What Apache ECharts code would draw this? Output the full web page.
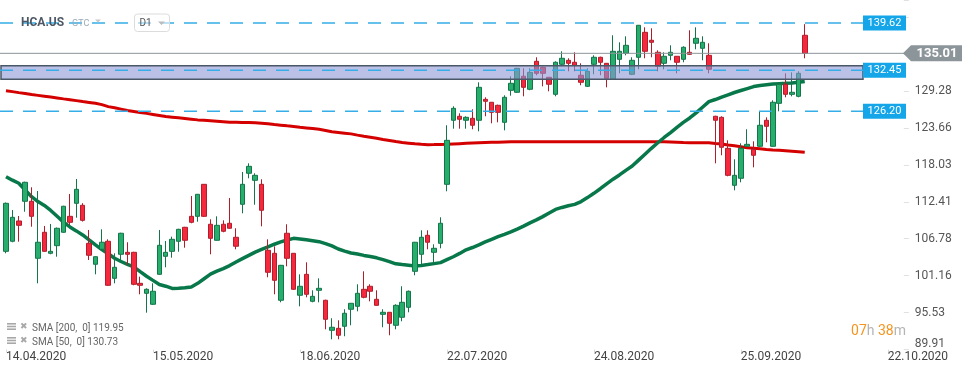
<!DOCTYPE html>
<html><head><meta charset="utf-8">
<script src="https://cdn.jsdelivr.net/npm/echarts@6/dist/echarts.min.js"></script>
<style>html,body{margin:0;padding:0;background:#fff}#c{width:974px;height:375px}</style>
</head><body><div id="c"></div>
<script>
const dates = ['14.04.2020','15.04.2020','16.04.2020','17.04.2020','20.04.2020','21.04.2020','22.04.2020','23.04.2020','24.04.2020','27.04.2020','28.04.2020','29.04.2020','30.04.2020','01.05.2020','04.05.2020','05.05.2020','06.05.2020','07.05.2020','08.05.2020','11.05.2020','12.05.2020','13.05.2020','14.05.2020','15.05.2020','18.05.2020','19.05.2020','20.05.2020','21.05.2020','22.05.2020','26.05.2020','27.05.2020','28.05.2020','29.05.2020','01.06.2020','02.06.2020','03.06.2020','04.06.2020','05.06.2020','08.06.2020','09.06.2020','10.06.2020','11.06.2020','12.06.2020','15.06.2020','16.06.2020','17.06.2020','18.06.2020','19.06.2020','22.06.2020','23.06.2020','24.06.2020','25.06.2020','26.06.2020','29.06.2020','30.06.2020','01.07.2020','02.07.2020','06.07.2020','07.07.2020','08.07.2020','09.07.2020','10.07.2020','13.07.2020','14.07.2020','15.07.2020','16.07.2020','17.07.2020','20.07.2020','21.07.2020','22.07.2020','23.07.2020','24.07.2020','27.07.2020','28.07.2020','29.07.2020','30.07.2020','31.07.2020','03.08.2020','04.08.2020','05.08.2020','06.08.2020','07.08.2020','10.08.2020','11.08.2020','12.08.2020','13.08.2020','14.08.2020','17.08.2020','18.08.2020','19.08.2020','20.08.2020','21.08.2020','24.08.2020','25.08.2020','26.08.2020','27.08.2020','28.08.2020','31.08.2020','01.09.2020','02.09.2020','03.09.2020','04.09.2020','08.09.2020','09.09.2020','10.09.2020','11.09.2020','14.09.2020','15.09.2020','16.09.2020','17.09.2020','18.09.2020','21.09.2020','22.09.2020','23.09.2020','24.09.2020','25.09.2020','28.09.2020','29.09.2020','30.09.2020','01.10.2020','02.10.2020','05.10.2020','06.10.2020','07.10.2020','08.10.2020','09.10.2020',
'10.10.2020','11.10.2020','12.10.2020','13.10.2020','14.10.2020','15.10.2020','16.10.2020','17.10.2020','18.10.2020','19.10.2020','20.10.2020','21.10.2020','22.10.2020','23.10.2020','24.10.2020'];

const opens = [104.87,106.40,109.49,112.49,112.49,103.81,107.77,104.57,105.73,107.77,110.20,112.18,111.88,106.09,102.90,105.18,106.40,100.76,104.42,104.72,104.72,100.00,98.48,96.81,101.37,104.11,104.87,106.40,108.53,110.20,110.20,115.07,108.99,106.55,108.99,109.14,107.01,112.03,116.75,115.68,115.07,105.03,104.57,97.42,107.62,104.57,98.18,101.37,97.26,98.94,97.42,92.85,93.15,93.46,96.05,96.50,99.09,99.55,97.57,95.28,95.59,93.61,94.83,96.35,101.83,104.42,107.31,104.72,106.09,115.07,124.82,125.43,124.82,125.12,124.82,128.01,127.56,127.10,124.51,129.38,129.08,131.52,129.54,133.80,132.88,131.36,128.77,133.34,133.95,133.65,131.67,129.99,133.34,134.41,133.49,131.06,134.10,135.02,131.82,134.41,138.21,137.00,135.17,133.49,134.71,134.56,134.10,135.17,136.54,135.78,134.71,125.43,125.27,120.55,114.92,115.99,120.86,120.40,120.86,124.82,120.86,127.40,130.30,128.77,128.47,137.76];
const closes = [112.18,110.05,108.83,115.38,110.20,106.25,104.87,104.87,108.38,111.73,109.29,114.31,109.59,104.27,104.05,106.25,99.70,102.44,107.62,104.42,99.85,99.70,99.09,98.79,105.79,104.72,106.70,108.22,106.55,109.29,113.55,110.20,106.85,108.83,107.92,108.38,105.64,115.07,117.81,116.44,111.12,101.68,100.46,102.74,103.81,99.09,99.55,98.33,98.02,99.24,94.52,93.31,92.09,95.44,96.96,98.48,97.87,98.79,96.65,95.59,93.91,96.65,97.11,98.79,106.25,107.01,106.25,105.33,109.14,121.77,126.64,124.97,125.27,124.06,129.84,127.71,126.03,126.03,128.32,130.45,132.73,129.84,132.12,131.97,131.97,130.30,133.65,134.26,133.49,133.19,130.60,132.28,134.41,133.65,131.21,135.32,135.32,136.23,133.95,139.28,135.32,136.69,133.04,134.56,135.17,133.65,135.93,134.86,137.30,136.69,132.58,124.82,120.71,116.44,116.44,120.55,121.16,119.49,124.06,123.90,127.56,130.30,128.77,129.08,131.97,135.01];
const lows = [104.57,106.25,106.34,110.90,108.62,100.00,104.80,104.42,104.05,107.70,108.88,109.99,109.40,103.55,101.37,105.10,99.60,100.00,103.55,102.79,99.70,98.33,95.53,96.70,101.30,102.44,103.90,104.81,105.42,109.14,109.38,110.10,104.42,106.50,107.77,108.30,105.18,110.66,115.99,111.97,108.68,100.92,98.33,97.11,102.59,99.00,96.50,97.87,97.11,97.11,93.00,91.48,91.48,91.94,93.61,95.74,97.72,97.26,96.60,93.31,92.09,93.00,94.22,95.59,101.22,102.90,105.18,103.05,105.33,114.01,123.54,123.54,123.54,123.45,123.14,125.43,124.36,124.51,123.29,128.56,129.00,128.47,129.40,131.67,129.99,129.23,128.47,133.04,132.28,132.28,130.15,129.90,131.82,131.67,129.84,131.00,131.97,134.71,131.70,132.58,134.26,134.41,132.28,132.58,133.95,131.97,133.65,134.80,135.63,133.95,131.97,118.27,119.49,116.29,114.16,115.38,120.80,117.66,120.80,121.47,120.80,126.19,128.32,128.47,128.32,134.26];
const highs = [112.30,111.16,110.25,115.47,114.62,114.05,108.73,109.03,108.50,111.80,113.60,115.88,112.20,108.12,104.10,108.22,106.70,104.57,107.70,106.25,104.80,101.01,99.24,100.00,108.12,106.44,107.10,108.30,108.60,113.29,113.60,115.10,109.75,110.20,109.59,112.99,108.38,116.95,118.27,116.75,115.84,106.70,105.64,102.80,108.99,104.60,101.37,103.20,98.94,100.76,97.50,94.68,94.37,96.05,97.00,99.85,101.83,99.85,98.94,96.05,95.60,96.81,99.55,98.90,106.30,108.07,108.07,105.94,110.05,124.06,126.95,125.88,125.43,126.49,130.60,128.32,127.60,127.20,128.62,131.52,132.80,132.73,132.73,134.41,133.00,131.40,133.80,135.32,134.26,135.17,133.49,132.73,134.71,134.50,133.50,137.76,136.69,137.60,134.41,139.30,138.97,138.82,135.47,135.17,136.23,134.60,136.08,138.52,138.97,137.60,136.54,125.50,125.43,121.77,118.88,121.32,123.45,121.62,126.19,125.27,127.86,130.60,131.97,132.12,132.28,139.45];

const sma200 = [129.32,129.18,129.03,128.89,128.74,128.61,128.48,128.35,128.22,128.08,
127.95,127.81,127.67,127.54,127.40,127.20,126.90,126.72,126.52,126.32,
126.17,126.02,125.87,125.71,125.55,125.39,125.29,125.19,125.09,124.99,
124.88,124.81,124.74,124.67,124.60,124.53,124.51,124.49,124.47,124.45,
124.38,124.28,124.17,124.08,123.97,123.87,123.76,123.66,123.56,123.44,
123.27,123.08,122.97,122.86,122.75,122.56,122.39,122.23,122.07,121.90,
121.75,121.58,121.44,121.34,121.23,121.16,121.11,121.12,121.14,121.16,
121.21,121.26,121.31,121.36,121.40,121.43,121.46,121.49,121.52,121.55,
121.56,121.56,121.56,121.56,121.56,121.56,121.56,121.56,121.56,121.56,
121.56,121.56,121.56,121.56,121.56,121.56,121.56,121.56,121.56,121.56,
121.56,121.56,121.56,121.54,121.51,121.48,121.44,121.41,121.41,121.41,
121.40,121.30,121.22,121.07,120.93,120.79,120.65,120.57,120.47,120.37,
120.30,120.24,120.17,120.10,120.03,119.95];
const sma50 = [116.23,115.70,115.23,114.21,113.19,112.44,111.86,111.09,110.21,109.32,
108.58,107.98,107.36,106.60,105.85,105.14,104.50,103.81,103.32,102.90,
102.49,101.77,101.08,100.45,99.82,99.56,99.22,99.25,99.33,99.45,
100.00,100.70,101.40,101.85,102.25,102.70,103.25,103.76,104.25,104.75,
105.15,105.55,105.95,106.30,106.60,106.85,106.75,106.62,106.48,106.34,
106.05,105.70,105.22,104.90,104.62,104.45,104.25,104.08,103.88,103.60,
103.30,102.97,102.85,102.75,102.65,102.72,102.85,103.00,103.15,103.60,
104.05,104.55,105.10,105.45,105.85,106.30,106.70,107.10,107.45,107.82,
108.25,108.70,109.20,109.65,110.15,110.70,111.25,111.55,111.80,112.02,
112.45,113.05,113.70,114.40,115.15,115.85,116.50,117.20,117.85,118.75,
119.65,120.55,121.40,122.20,122.95,123.75,124.50,125.17,125.95,126.80,
127.65,127.98,128.35,128.70,129.05,129.35,129.65,129.95,130.10,130.22,
130.34,130.39,130.44,130.50,130.60,130.73];

const xTickLabels = ['14.04.2020','15.05.2020','18.06.2020','22.07.2020','24.08.2020','25.09.2020','22.10.2020'];
const yTickLabels = ['89.91','95.53','101.16','106.78','112.41','118.03','123.66','129.28'];
const levelLines = [139.62, 132.45, 126.20];
const zoneBand = [131.06, 133.13];
const lastPrice = 135.01;
const legendRows = ['SMA [200,  0] 119.95', 'SMA [50,  0] 130.73'];
const symbolName = 'HCA.US';
const orderType = 'GTC';
const timeframe = 'D1';
const countdown = ['07', '38'];

const Y_MIN = 89.91, Y_MAX = 143.13, Y_INT = 5.625;
const FONT = 'Roboto, sans-serif';

const candleData = closes.map((c, i) => [opens[i], c, lows[i], highs[i]]);
const showX = (idx, val) => xTickLabels.indexOf(val) >= 0;

const chart = echarts.init(document.getElementById('c'));
chart.setOption({
  animation: false,
  backgroundColor: '#fff',
  grid: { left: 2.8, right: 70.2, top: 0, bottom: 25.4 },
  xAxis: {
    type: 'category', data: dates, boundaryGap: true,
    axisLine: { show: false },
    axisTick: { show: true, alignWithLabel: true, interval: showX, length: 3, lineStyle: { color: '#d8d8d8' } },
    axisLabel: { interval: showX, align: 'left', margin: 1, color: '#444', fontSize: 12, fontFamily: FONT },
    splitLine: { show: false }
  },
  yAxis: {
    type: 'value', position: 'right', min: Y_MIN, max: Y_MAX, interval: Y_INT, scale: true,
    axisLine: { show: false },
    axisTick: { show: true, length: 5, lineStyle: { color: '#e0e0e0' } },
    splitLine: { show: false },
    axisLabel: {
      margin: 11, color: '#555', fontSize: 12, fontFamily: FONT,
      formatter: v => {
        const k = Math.round((v - Y_MIN) / Y_INT);
        if (Math.abs(v - (Y_MIN + k * Y_INT)) > 0.01) return '';
        if (k === 0) return '{b|' + yTickLabels[0] + '}';
        return yTickLabels[k] || '';
      },
      rich: { b: { color: '#555', fontSize: 12, fontFamily: FONT, padding: [0, 0, 11, 0] } }
    }
  },
  series: [
    { type: 'line', data: sma200, showSymbol: false, z: 2,
      lineStyle: { color: '#d40000', width: 3 } },
    { type: 'line', data: sma50, showSymbol: false, z: 2,
      lineStyle: { color: '#08784a', width: 3.5 } },
    { type: 'candlestick', data: candleData, barWidth: 5, z: 3,
      itemStyle: { color: '#27ae6c', color0: '#f5283d', borderColor: '#14744a', borderColor0: '#b01e2c', borderWidth: 1 } }
  ]
});

const py = v => chart.convertToPixel({ yAxisIndex: 0 }, v);
const els = [];
// zone band
const yb1 = py(zoneBand[1]), yb0 = py(zoneBand[0]);
els.push({ type: 'rect', z: 100, shape: { x: 1, y: yb1, width: 862, height: yb0 - yb1 },
  style: { fill: 'rgba(140,150,213,0.6)', stroke: '#4a5766', lineWidth: 1.5 } });
// current price line
const yl = py(lastPrice);
els.push({ type: 'line', z: 101, shape: { x1: 0, y1: yl, x2: 906, y2: yl }, style: { stroke: '#8c9499', lineWidth: 1 } });
els.push({ type: 'polygon', z: 102, shape: { points: [[903, yl], [911, yl - 8], [962, yl - 8], [962, yl + 8], [911, yl + 8]] },
  style: { fill: '#8c9599' } });
els.push({ type: 'text', z: 103, x: 937, y: yl,
  style: { text: lastPrice.toFixed(2), fill: '#fff', font: 'bold 13px ' + FONT, textAlign: 'center', align: 'center', textVerticalAlign: 'middle', verticalAlign: 'middle' } });
// level lines
levelLines.forEach(v => {
  const y = py(v);
  els.push({ type: 'line', z: 104, shape: { x1: 0, y1: y, x2: 863, y2: y }, style: { stroke: '#35aee8', lineWidth: 1.5, lineDash: [13, 10] } });
  els.push({ type: 'rect', z: 105, shape: { x: 863, y: y - 7.5, width: 43, height: 15 }, style: { fill: '#14a6e8' } });
  els.push({ type: 'text', z: 106, x: 884.5, y: y,
    style: { text: v.toFixed(2), fill: '#fff', font: '11px ' + FONT, textAlign: 'center', align: 'center', textVerticalAlign: 'middle', verticalAlign: 'middle' } });
});
// header
els.push({ type: 'text', z: 110, x: 21, y: 23, style: { text: symbolName, fill: '#4d5864', font: 'bold 12px ' + FONT, textVerticalAlign: 'middle', verticalAlign: 'middle' } });
els.push({ type: 'text', z: 110, x: 72, y: 24, style: { text: orderType, fill: '#9aabb8', font: '9px ' + FONT, textVerticalAlign: 'middle', verticalAlign: 'middle' } });
els.push({ type: 'polygon', z: 110, shape: { points: [[95, 19.5], [101, 19.5], [98, 22.5]] }, style: { fill: '#c8c8c8' } });
els.push({ type: 'rect', z: 110, shape: { x: 134.5, y: 14, width: 35, height: 17.5, r: 3 }, style: { fill: 'rgba(255,255,255,0.55)', stroke: '#dcdcdc', lineWidth: 1 } });
els.push({ type: 'text', z: 111, x: 139.5, y: 23, style: { text: timeframe, fill: '#555', font: '10px ' + FONT, textVerticalAlign: 'middle', verticalAlign: 'middle' } });
els.push({ type: 'polygon', z: 111, shape: { points: [[158, 21.5], [165, 21.5], [161.5, 25]] }, style: { fill: '#bbb' } });
// legend rows
legendRows.forEach((t, i) => {
  const y = 327 + i * 14;
  [0, 3, 6].forEach(d => els.push({ type: 'rect', z: 110, shape: { x: 7, y: y - 4 + d * 0.9, width: 9, height: 1.6 }, style: { fill: '#a8a8a8' } }));
  els.push({ type: 'text', z: 110, x: 24, y: y, style: { text: '✖', fill: '#a8a8a8', font: '9px ' + FONT, textAlign: 'center', align: 'center', textVerticalAlign: 'middle', verticalAlign: 'middle' } });
  els.push({ type: 'text', z: 110, x: 32, y: y + 1, style: { text: t, fill: '#666', font: '10px ' + FONT, textVerticalAlign: 'middle', verticalAlign: 'middle' } });
});
// countdown
els.push({ type: 'text', z: 110, x: 906, y: 331, style: {
  text: '{o|' + countdown[0] + '}{g|h }{o|' + countdown[1] + '}{g|m}',
  textAlign: 'right', align: 'right', textVerticalAlign: 'middle', verticalAlign: 'middle',
  rich: { o: { fill: '#f5941e', color: '#f5941e', fontSize: 14, fontFamily: FONT }, g: { fill: '#b5b5b5', color: '#b5b5b5', fontSize: 14, fontFamily: FONT } } } });
chart.setOption({ graphic: els });
</script></body></html>
